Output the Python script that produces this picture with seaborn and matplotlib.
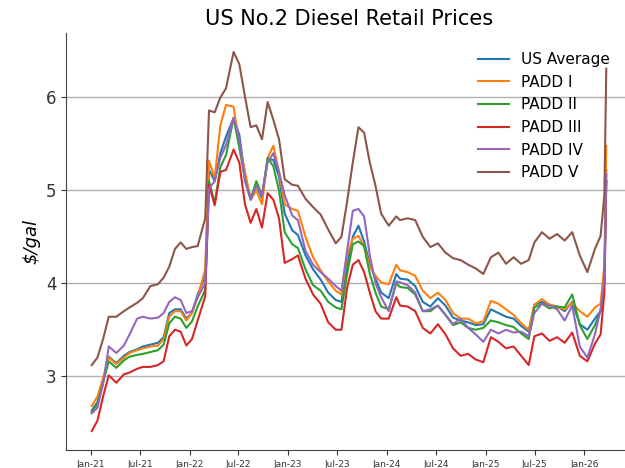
import pandas as pd
import seaborn as sns
import matplotlib.pyplot as plt
import matplotlib.dates as mdates

# weekly-ish sample dates
dates = [
    '2021-01-04', '2021-01-25', '2021-02-15', '2021-03-08', '2021-04-05', '2021-05-03',
    '2021-05-24', '2021-06-21', '2021-07-12', '2021-08-09', '2021-09-06', '2021-09-27',
    '2021-10-18', '2021-11-08', '2021-11-29', '2021-12-20', '2022-01-10', '2022-01-31',
    '2022-02-28', '2022-03-14', '2022-04-04', '2022-04-25', '2022-05-16', '2022-06-13',
    '2022-07-04', '2022-07-25', '2022-08-15', '2022-09-05', '2022-09-26', '2022-10-17',
    '2022-11-07', '2022-11-28', '2022-12-19', '2023-01-16', '2023-02-06', '2023-03-06',
    '2023-04-03', '2023-05-01', '2023-05-29', '2023-06-26', '2023-07-17', '2023-08-07',
    '2023-08-28', '2023-09-18', '2023-10-09', '2023-10-30', '2023-11-20', '2023-12-11',
    '2024-01-08', '2024-02-05', '2024-02-19', '2024-03-18', '2024-04-15', '2024-05-13',
    '2024-06-10', '2024-07-08', '2024-08-05', '2024-09-02', '2024-09-30', '2024-10-28',
    '2024-11-25', '2024-12-23', '2025-01-20', '2025-02-17', '2025-03-17', '2025-04-14',
    '2025-05-12', '2025-06-09', '2025-06-30', '2025-07-28', '2025-08-25', '2025-09-22',
    '2025-10-20', '2025-11-17', '2025-12-15', '2026-01-12', '2026-02-09', '2026-03-02',
    '2026-03-16', '2026-03-23',
]

us_average = [
    2.63, 2.72, 2.95, 3.21, 3.14, 3.22, 3.26, 3.29, 3.32, 3.34, 3.36, 3.42,
    3.68, 3.72, 3.72, 3.62, 3.68, 3.88, 4.08, 5.22, 5.10, 5.40, 5.58, 5.78,
    5.60, 5.15, 4.92, 5.05, 4.92, 5.33, 5.33, 5.15, 4.75, 4.57, 4.52, 4.30,
    4.15, 4.04, 3.90, 3.82, 3.80, 4.20, 4.50, 4.62, 4.45, 4.20, 4.05, 3.90,
    3.84, 4.10, 4.05, 4.04, 3.97, 3.80, 3.75, 3.84, 3.76, 3.63, 3.60, 3.58,
    3.55, 3.56, 3.72, 3.68, 3.64, 3.62, 3.54, 3.48, 3.77, 3.80, 3.77, 3.75,
    3.70, 3.80, 3.56, 3.50, 3.62, 3.70, 4.05, 5.22,
]
padd_1 = [
    2.68, 2.78, 2.98, 3.20, 3.13, 3.20, 3.25, 3.28, 3.30, 3.32, 3.33, 3.40,
    3.64, 3.70, 3.70, 3.60, 3.68, 3.85, 4.15, 5.32, 5.13, 5.70, 5.92, 5.90,
    5.50, 5.20, 4.90, 5.00, 4.85, 5.35, 5.48, 5.20, 4.85, 4.80, 4.78, 4.50,
    4.28, 4.14, 4.02, 3.92, 3.88, 4.30, 4.48, 4.51, 4.40, 4.18, 4.08, 4.01,
    3.99, 4.20, 4.14, 4.12, 4.08, 3.92, 3.84, 3.90, 3.82, 3.68, 3.62, 3.62,
    3.57, 3.59, 3.81, 3.78, 3.72, 3.66, 3.57, 3.50, 3.77, 3.83, 3.77, 3.74,
    3.72, 3.79, 3.70, 3.64, 3.74, 3.78, 4.20, 5.48,
]
padd_2 = [
    2.61, 2.70, 2.93, 3.16, 3.09, 3.17, 3.21, 3.23, 3.24, 3.26, 3.28, 3.34,
    3.57, 3.64, 3.62, 3.52, 3.59, 3.75, 3.93, 5.10, 4.86, 5.25, 5.38, 5.78,
    5.46, 5.12, 4.90, 5.10, 4.95, 5.35, 5.26, 5.00, 4.55, 4.42, 4.38, 4.15,
    3.98, 3.92, 3.80, 3.74, 3.72, 4.10, 4.42, 4.45, 4.40, 4.10, 3.90, 3.75,
    3.72, 4.00, 3.96, 3.95, 3.88, 3.70, 3.70, 3.76, 3.66, 3.55, 3.58, 3.52,
    3.50, 3.52, 3.60, 3.58, 3.55, 3.53, 3.46, 3.40, 3.74, 3.78, 3.73, 3.75,
    3.74, 3.88, 3.55, 3.40, 3.55, 3.70, 4.00, 5.10,
]
padd_3 = [
    2.41, 2.52, 2.78, 3.01, 2.93, 3.02, 3.04, 3.08, 3.10, 3.10, 3.12, 3.16,
    3.43, 3.50, 3.48, 3.33, 3.40, 3.60, 3.86, 5.06, 4.84, 5.20, 5.22, 5.44,
    5.30, 4.85, 4.65, 4.80, 4.60, 4.97, 4.90, 4.70, 4.22, 4.26, 4.30, 4.05,
    3.88, 3.78, 3.58, 3.50, 3.50, 3.95, 4.20, 4.25, 4.12, 3.90, 3.70, 3.62,
    3.62, 3.85, 3.76, 3.75, 3.70, 3.52, 3.46, 3.56, 3.45, 3.30, 3.22, 3.24,
    3.18, 3.15, 3.42, 3.37, 3.30, 3.32, 3.22, 3.12, 3.43, 3.46, 3.38, 3.42,
    3.36, 3.47, 3.22, 3.16, 3.35, 3.45, 3.90, 5.10,
]
padd_4 = [
    2.60, 2.66, 2.92, 3.32, 3.25, 3.33, 3.45, 3.62, 3.64, 3.62, 3.63, 3.68,
    3.80, 3.85, 3.82, 3.68, 3.70, 3.85, 4.00, 5.02, 5.10, 5.35, 5.49, 5.78,
    5.55, 5.10, 4.90, 5.05, 4.95, 5.30, 5.40, 5.20, 4.95, 4.73, 4.68, 4.35,
    4.20, 4.12, 4.05, 3.97, 3.92, 4.35, 4.78, 4.80, 4.72, 4.30, 4.00, 3.85,
    3.70, 4.02, 4.01, 3.98, 3.90, 3.70, 3.72, 3.76, 3.66, 3.56, 3.62, 3.52,
    3.45, 3.37, 3.50, 3.46, 3.50, 3.47, 3.48, 3.43, 3.68, 3.78, 3.76, 3.72,
    3.60, 3.76, 3.32, 3.20, 3.45, 3.72, 4.05, 5.17,
]
padd_5 = [
    3.12, 3.20, 3.40, 3.64, 3.64, 3.70, 3.74, 3.79, 3.84, 3.97, 3.99, 4.06,
    4.18, 4.37, 4.44, 4.37, 4.39, 4.40, 4.70, 5.86, 5.84, 6.00, 6.10, 6.49,
    6.36, 6.01, 5.68, 5.70, 5.55, 5.95, 5.76, 5.55, 5.12, 5.06, 5.05, 4.91,
    4.82, 4.74, 4.58, 4.43, 4.50, 4.88, 5.30, 5.68, 5.62, 5.30, 5.05, 4.75,
    4.62, 4.72, 4.68, 4.70, 4.68, 4.50, 4.39, 4.43, 4.33, 4.27, 4.25, 4.20,
    4.16, 4.10, 4.28, 4.33, 4.21, 4.28, 4.21, 4.25, 4.44, 4.55, 4.48, 4.53,
    4.46, 4.55, 4.30, 4.12, 4.37, 4.51, 4.95, 6.31,
]

series_names = ['US Average', 'PADD I', 'PADD II', 'PADD III', 'PADD IV', 'PADD V']

prices = pd.DataFrame({
    'date': pd.to_datetime(dates),
    'US Average': us_average,
    'PADD I': padd_1,
    'PADD II': padd_2,
    'PADD III': padd_3,
    'PADD IV': padd_4,
    'PADD V': padd_5,
})
prices_long = prices.melt(id_vars='date', var_name='region', value_name='price')

# plot
fig = plt.figure(figsize=(6.25, 4.68), dpi=100)
ax = fig.add_axes([0.1056, 0.0385, 0.9056, 0.891])

sns.lineplot(data=prices_long, x='date', y='price', hue='region', hue_order=series_names,
             palette='tab10', linewidth=1.5, ax=ax)

ax.set_title('US No.2 Diesel Retail Prices', fontsize=15)
ax.set_xlabel('')
ax.set_ylabel('$/gal', fontsize=13, style='italic')
ax.set_yticks([3, 4, 5, 6])
ax.tick_params(axis='y', labelsize=12, colors='#333333')
ax.tick_params(axis='x', labelsize=6.5, colors='#333333')
ax.xaxis.set_major_locator(mdates.MonthLocator(bymonth=[1, 7]))
ax.xaxis.set_major_formatter(mdates.DateFormatter('%b-%y'))
ax.grid(axis='y', color='#b0b0b0', linewidth=1)
ax.spines['top'].set_visible(False)
ax.spines['right'].set_visible(False)
ax.spines['left'].set_color('#444444')
ax.spines['bottom'].set_color('#444444')

ax.legend(loc='upper right', bbox_to_anchor=(0.998, 0.918), bbox_transform=fig.transFigure,
          frameon=False, fontsize=11)

plt.savefig('out.png', dpi=100)
